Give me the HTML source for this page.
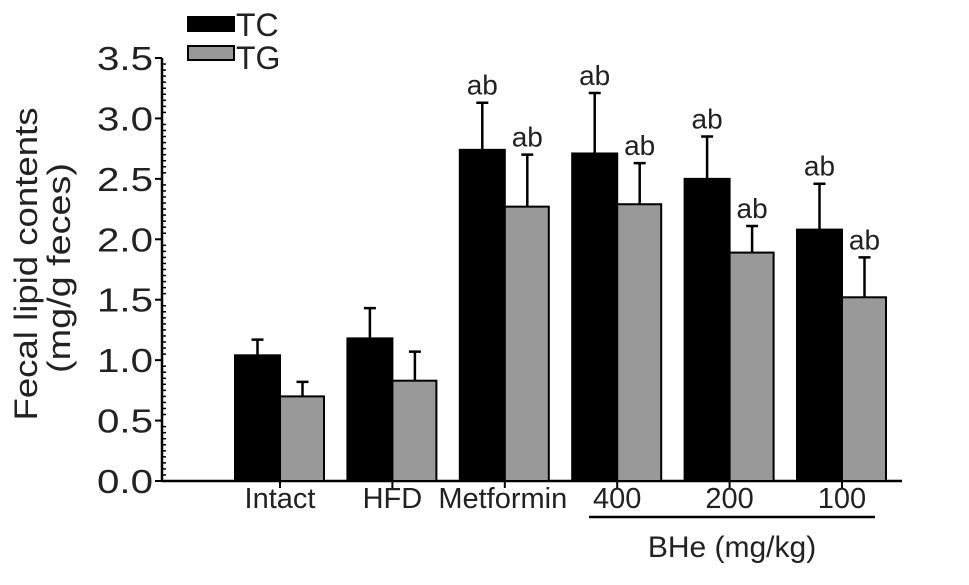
<!DOCTYPE html>
<html><head><meta charset="utf-8"><style>
html,body{margin:0;padding:0;background:#fff;}
svg{display:block;font-family:"Liberation Sans",Arial,sans-serif;}
</style></head><body>
<svg id="chart" width="969" height="585" viewBox="0 0 969 585"></svg>
<script>
const categories = ["Intact","HFD","Metformin","400","200","100"];
const tcValues = [1.04,1.18,2.74,2.71,2.50,2.08];
const tcErrors = [0.13,0.25,0.39,0.50,0.35,0.38];
const tgValues = [0.70,0.83,2.27,2.29,1.89,1.52];
const tgErrors = [0.12,0.24,0.43,0.34,0.22,0.33];
const tcLabels = ["","","ab","ab","ab","ab"];
const tgLabels = ["","","ab","ab","ab","ab"];
const yTicks = [0,0.5,1.0,1.5,2.0,2.5,3.0,3.5];
const yTickLabels = ["0.0","0.5","1.0","1.5","2.0","2.5","3.0","3.5"];

const NS="http://www.w3.org/2000/svg";
const svg=document.getElementById('chart');
const y0=481, yTop=58, yMax=3.5;
function yS(v){return y0-(v/yMax)*(y0-yTop);}
const x0=280, step=112.4;
function xS(i){return x0+i*step;}
const barW=45;
function mk(tag,attrs,parent){const e=document.createElementNS(NS,tag);for(const k in attrs)e.setAttribute(k,attrs[k]);(parent||svg).appendChild(e);return e;}

const ax=mk('line',{x1:162,y1:yTop,x2:162,y2:y0+1,stroke:'#000','stroke-width':2.5});


for(let k=0;k<=70;k++){
  const v=k*0.05;
  if(k%10===0) continue;
  const t=mk('line',{x1:162,y1:yS(v),x2:166,y2:yS(v),stroke:'#000','stroke-width':1.5});
  
  
}
yTicks.forEach((v,i)=>{
  const t=mk('line',{x1:155,y1:yS(v),x2:162,y2:yS(v),stroke:'#000','stroke-width':2});
  
  
  const l=mk('text',{x:153,y:yS(v)+12,'text-anchor':'end','font-size':33,fill:'#222',textLength:56,lengthAdjust:'spacingAndGlyphs'});
  l.textContent=yTickLabels[i];
  
  
});
const xa=mk('line',{x1:162,y1:y0,x2:902,y2:y0,stroke:'#000','stroke-width':2.5});



categories.forEach((c,i)=>{
  const cx=xS(i);
  const b1=mk('rect',{x:cx-barW,y:yS(tcValues[i]),width:barW,height:y0-yS(tcValues[i]),fill:'#000',stroke:'#000','stroke-width':2});
  
  
  const b2=mk('rect',{x:cx,y:yS(tgValues[i]),width:barW-1,height:y0-yS(tgValues[i]),fill:'#999',stroke:'#000','stroke-width':2});
  
  
  [[cx-barW/2,tcValues[i],tcErrors[i],tcLabels[i],'tc'],[cx+barW/2,tgValues[i],tgErrors[i],tgLabels[i],'tg']].forEach(([ex,v,e,lab,s])=>{
    const top=yS(v+e);
    const el=mk('path',{d:`M${ex},${yS(v)} V${top} M${ex-6},${top} H${ex+6}`,stroke:'#000','stroke-width':2.5,fill:'none'});
    
    
    if(lab){
      const t=mk('text',{x:ex,y:top-8,'text-anchor':'middle','font-size':28,fill:'#222'});
      t.textContent=lab;
      
      
    }
  });
  const tk=mk('line',{x1:cx,y1:y0,x2:cx,y2:y0+7,stroke:'#000','stroke-width':2});
  
  
  const xl=mk('text',{x:i===2?cx-2:cx,y:y0+27,'text-anchor':'middle','font-size':29,fill:'#222'});
  xl.textContent=c;
  
  
});
</script>
<svg style="position:absolute;left:0;top:0" width="969" height="585">
  <line x1="589" y1="517" x2="875" y2="517" stroke="#000" stroke-width="2.5"/>
  <text x="732" y="557" text-anchor="middle" font-size="30" fill="#222" font-family="Liberation Sans, sans-serif">BHe (mg/kg)</text>
  <g transform="translate(37,264) rotate(-90)" font-family="Liberation Sans, sans-serif" font-size="32" fill="#222">
    <text x="0" y="0" text-anchor="middle" textLength="313" lengthAdjust="spacingAndGlyphs">Fecal lipid contents</text>
    <text x="-4" y="33" text-anchor="middle" textLength="210" lengthAdjust="spacingAndGlyphs">(mg/g feces)</text>
  </g>
  <rect x="188" y="17" width="46" height="14" fill="#000" stroke="#000" stroke-width="2"/>
  <text x="236" y="36" font-size="32" fill="#222" font-family="Liberation Sans, sans-serif">TC</text>
  <rect x="188" y="46" width="46" height="14" fill="#999" stroke="#000" stroke-width="2"/>
  <text x="236" y="69" font-size="32" fill="#222" font-family="Liberation Sans, sans-serif">TG</text>
</svg>
</body></html>
